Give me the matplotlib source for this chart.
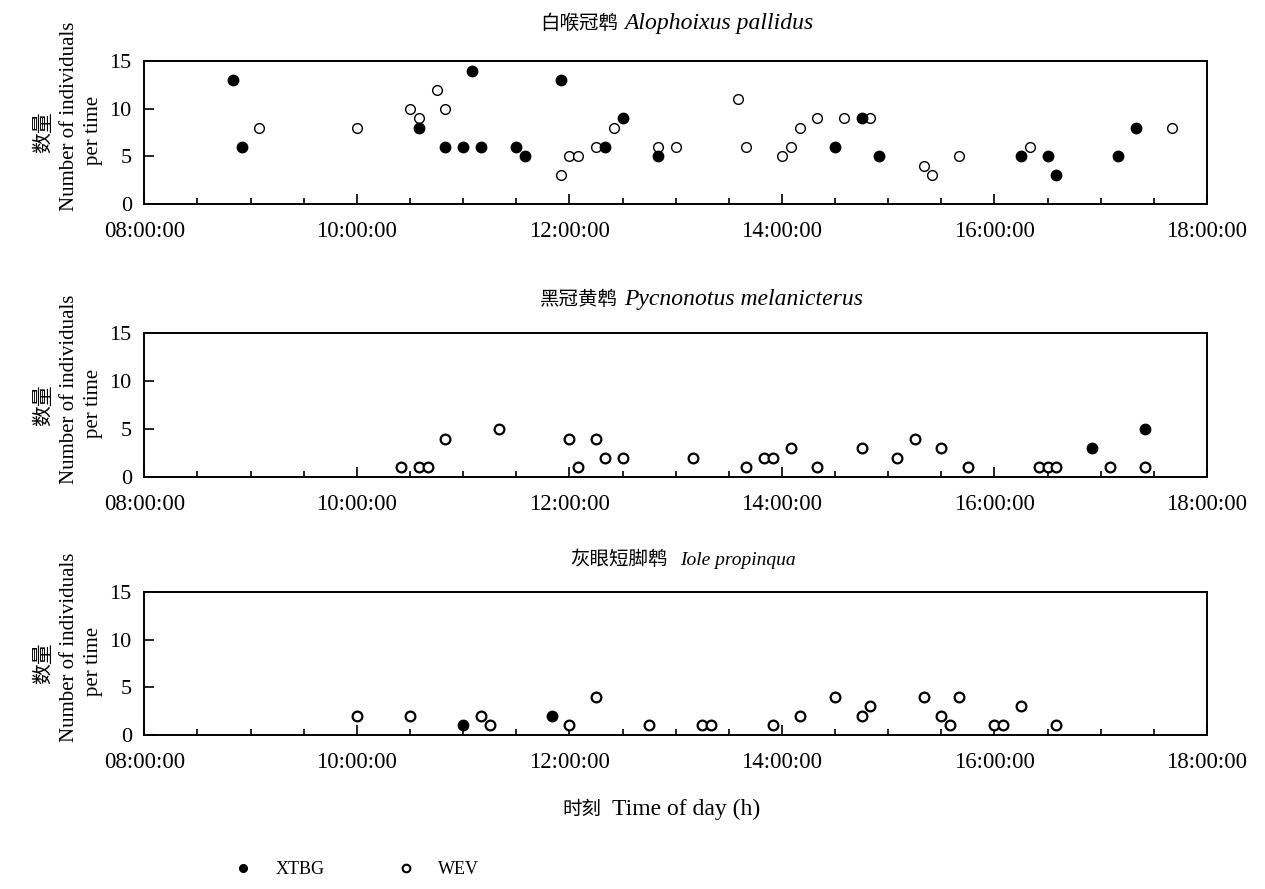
import numpy as np
import matplotlib.pyplot as plt
from matplotlib.lines import Line2D
from matplotlib.ticker import MultipleLocator, FuncFormatter

plt.rcParams['font.family'] = ['Liberation Serif', 'Noto Sans CJK SC']

# --- data (time of observation, number of individuals) ---
# 白喉冠鹎 Alophoixus pallidus
ap_xtbg_t = ["08:50", "08:55", "10:35", "10:50", "11:00", "11:05", "11:10",
             "11:30", "11:35", "11:55", "12:20", "12:30", "12:50", "14:30",
             "14:45", "14:55", "16:15", "16:30", "16:35", "17:10", "17:20"]
ap_xtbg_n = [13, 6, 8, 6, 6, 14, 6, 6, 5, 13, 6, 9, 5, 6, 9, 5, 5, 5, 3, 5, 8]
ap_wev_t = ["09:05", "10:00", "10:30", "10:35", "10:45", "10:50", "11:55",
            "12:00", "12:05", "12:15", "12:25", "12:50", "13:00", "13:35",
            "13:40", "14:00", "14:05", "14:10", "14:20", "14:35", "14:50",
            "15:20", "15:25", "15:40", "16:20", "17:40"]
ap_wev_n = [8, 8, 10, 9, 12, 10, 3, 5, 5, 6, 8, 6, 6, 11, 6, 5, 6, 8, 9, 9, 9,
            4, 3, 5, 6, 8]

# 黑冠黄鹎 Pycnonotus melanicterus
pm_xtbg_t = ["16:55", "17:25"]
pm_xtbg_n = [3, 5]
pm_wev_t = ["10:25", "10:35", "10:40", "10:50", "11:20", "12:00", "12:05",
            "12:15", "12:20", "12:30", "13:10", "13:40", "13:50", "13:55",
            "14:05", "14:20", "14:45", "15:05", "15:15", "15:30", "15:45",
            "16:25", "16:30", "16:35", "17:05", "17:25"]
pm_wev_n = [1, 1, 1, 4, 5, 4, 1, 4, 2, 2, 2, 1, 2, 2, 3, 1, 3, 2, 4, 3, 1,
            1, 1, 1, 1, 1]

# 灰眼短脚鹎 Iole propinqua
ip_xtbg_t = ["11:00", "11:50"]
ip_xtbg_n = [1, 2]
ip_wev_t = ["10:00", "10:30", "11:10", "11:15", "12:00", "12:15", "12:45",
            "13:15", "13:20", "13:55", "14:10", "14:30", "14:45", "14:50",
            "15:20", "15:30", "15:35", "15:40", "16:00", "16:05", "16:15",
            "16:35"]
ip_wev_n = [2, 2, 2, 1, 1, 4, 1, 1, 1, 1, 2, 4, 2, 3, 4, 2, 1, 4, 1, 1, 3, 1]

cn_names = ["白喉冠鹎", "黑冠黄鹎", "灰眼短脚鹎"]
la_names = ["Alophoixus pallidus", "Pycnonotus melanicterus", "Iole propinqua"]
y_lines = ["数量", "Number of individuals", "per time"]
y_ticks = [0, 5, 10, 15]


def hours(ts):
    return np.array([int(t[:2]) + int(t[3:]) / 60.0 for t in ts])


panels = [
    (ap_xtbg_t, ap_xtbg_n, ap_wev_t, ap_wev_n),
    (pm_xtbg_t, pm_xtbg_n, pm_wev_t, pm_wev_n),
    (ip_xtbg_t, ip_xtbg_n, ip_wev_t, ip_wev_n),
]

W, H = 1265, 889
fig = plt.figure(figsize=(W / 100, H / 100), dpi=100)

left, right = 144.3, 1207
tops = [61, 333, 592]
bots = [204, 477, 735]
title_y = [29, 305, 565]
split_x = [[618, 624], [618, 624], [668, 680]]
la_size = [17, 17, 14]
ylab_x = [45, 69, 93]
ylab_dy = [0, -16, -2]

for i, (xt, xn, wt, wn) in enumerate(panels):
    ax = fig.add_axes([left / W, 1 - bots[i] / H, (right - left) / W,
                       (bots[i] - tops[i]) / H])
    mew = 1.0 if i == 0 else 1.6
    ax.plot(hours(wt), wn, "o", ms=7, mfc="white", mec="black", mew=mew,
            clip_on=False, zorder=3)
    ax.plot(hours(xt), xn, "o", ms=7.5, mfc="black", mec="black",
            clip_on=False, zorder=4)

    ax.set_xlim(8, 18)
    ax.set_ylim(0, 15)
    ax.xaxis.set_major_locator(MultipleLocator(2))
    ax.xaxis.set_minor_locator(MultipleLocator(0.5))
    ax.xaxis.set_major_formatter(
        FuncFormatter(lambda v, p: "%02d:00:00" % int(round(v))))
    ax.set_yticks(y_ticks)
    ax.tick_params(axis="x", which="major", direction="in", length=7.5,
                   width=1.2, labelsize=16.5, pad=12)
    ax.tick_params(axis="x", which="minor", direction="in", length=4,
                   width=1.2)
    ax.tick_params(axis="y", direction="in", length=7.5, width=1.2,
                   labelsize=16, pad=9)
    for s in ax.spines.values():
        s.set_linewidth(1.4)

    # title: Chinese name + italic Latin name
    ty = 1 - title_y[i] / H
    fig.text(split_x[i][0] / W, ty, cn_names[i], ha="right", va="baseline",
             fontsize=14)
    fig.text(split_x[i][1] / W, ty, la_names[i], ha="left", va="baseline",
             fontsize=la_size[i], style="italic")

    # y label, three rotated lines
    yc = (tops[i] + bots[i]) / 2
    for lx, dy, txt in zip(ylab_x, ylab_dy, y_lines):
        fig.text(lx / W, 1 - (yc + dy) / H, txt, rotation=90,
                 ha="center", va="center", fontsize=15)

fig.text(601 / W, 1 - 815 / H, "时刻", ha="right", va="baseline", fontsize=14)
fig.text(612 / W, 1 - 815 / H, "Time of day (h)", ha="left", va="baseline",
         fontsize=17)

handles = [
    Line2D([], [], ls="", marker="o", ms=5.5, mfc="black", mec="black"),
    Line2D([], [], ls="", marker="o", ms=5.5, mfc="white", mec="black",
           mew=1.5),
]
fig.legend(handles, ["XTBG", "WEV"], loc="center left",
           bbox_to_anchor=(234 / W, 1 - 870 / H), ncol=2, frameon=False,
           fontsize=13, handlelength=1, handletextpad=1.3,
           columnspacing=4.0, borderpad=0, borderaxespad=0)

fig.savefig("out.png", dpi=100)
